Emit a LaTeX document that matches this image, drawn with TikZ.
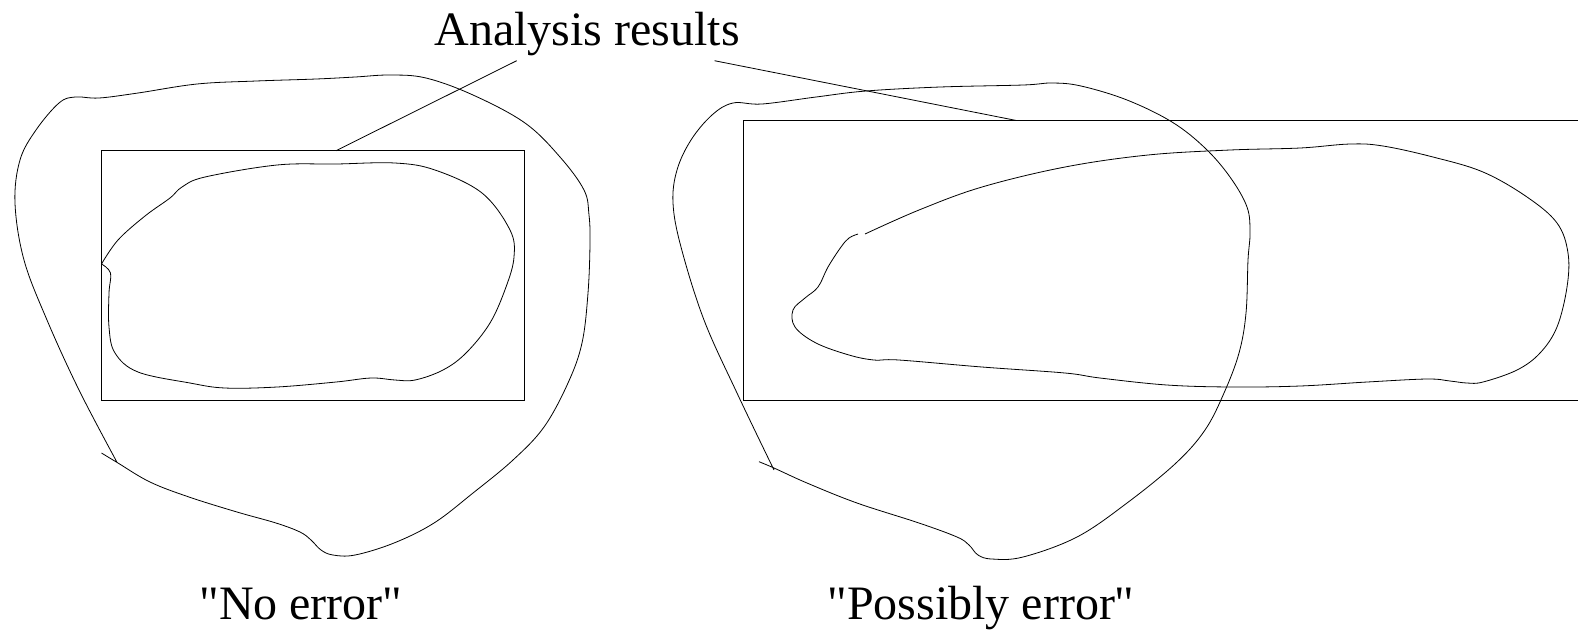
\documentclass[tikz,border=0pt]{standalone}
\usepackage{fontspec}
\setmainfont{Liberation Serif}[Ligatures=TeXOff]
\usepackage{tikz}

\begin{document}
\begin{tikzpicture}[x=0.5pt,y=-0.5pt,
  lbl/.style={font=\fontsize{24}{28}\selectfont,inner sep=0pt,anchor=base},
  blob/.style={smooth,tension=0.6}]
  \useasboundingbox (0,0) rectangle (1578,629);
  \node[lbl] (title) at (587,45) {Analysis results};
  \node[lbl] (noerr) at (301,619) {"No error"};
  \node[lbl] (posserr) at (981,619) {"Possibly error"};
  % analysis results boxes
  \draw (101.5,150.7) rectangle (524,400);
  \draw (1578,120.5) -- (743.7,120.5) -- (743.7,400.5) -- (1578,400.5);
  \coordinate (lefttop) at (336,150.7);
  \coordinate (righttop) at (1016.4,120.5);
  \coordinate (lead1) at (516.7,60.7);
  \coordinate (lead2) at (714.5,60.7);
  \draw (lead1) -- (lefttop);
  \draw (lead2) -- (righttop);
  % left: outer and inner region
  \draw plot[blob] coordinates {(101.5,453) (118,463) (150,482) (189,497) (237,512)
    (276,523) (300,532) (311,540) (321,550) (333,555) (355,555) (394,543) (434,523)
    (473,493) (513,460) (544,427) (568,383) (582,343) (588,293) (590,243) (589,215)
    (584,190) (560,157) (525,123) (473,95) (426,78) (390,75) (355,77) (316,79)
    (256,81) (197,84) (138,93) (99,98) (75,97) (59,103) (36,130) (20,160) (15,203)
    (24,260) (47,320) (79,390) (116.7,461.7)};
  \draw plot[blob] coordinates {(101.5,264) (118,240) (145,216) (170,198) (182,187)
    (205,177) (277,165) (336,164) (395,163) (435,170) (482,193) (510,230) (514,257)
    (506,287) (490,323) (466,353) (443,370) (415,380) (395,380) (371,378) (336,382)
    (277,387) (225,388) (190,383) (138,372) (115,353) (109,327) (109,293)
    (110.5,273) (101.5,264)};
  % right: outer and inner region
  \draw plot[blob] coordinates {(759,461.7) (774,468) (807,483) (857,503) (919,523)
    (957,537) (969,545) (978,555) (992,559) (1023,557) (1077,537) (1127,503)
    (1176,463) (1205,430) (1224,393) (1239,353) (1246,313) (1248,260) (1250,233)
    (1247,207) (1230,177) (1205,148) (1172,122) (1127,100) (1081,86) (1052,83)
    (1023,85) (940,87) (866,91) (816,97) (762,104) (733,103) (712,115) (691,140)
    (677,170) (673,203) (681,247) (704,320) (737,393) (774,470)};
  \draw plot[blob] coordinates {(865,234) (919,210) (982,187) (1065,167) (1148,155)
    (1230,150) (1300,148) (1350,144) (1383,146) (1433,157) (1483,172) (1527,197)
    (1557,223) (1568,253) (1567,287) (1557,327) (1540,353) (1517,370) (1483,382)
    (1467,383) (1450,381) (1427,379) (1367,382) (1300,386) (1233,387) (1167,385)
    (1100,378) (1065,373) (982,367) (899,360) (874,360) (849,355) (816,343)
    (795,327) (793,310) (805,298) (818,287) (828,267) (841,247) (849,238) (858,234)};
\end{tikzpicture}
\end{document}
